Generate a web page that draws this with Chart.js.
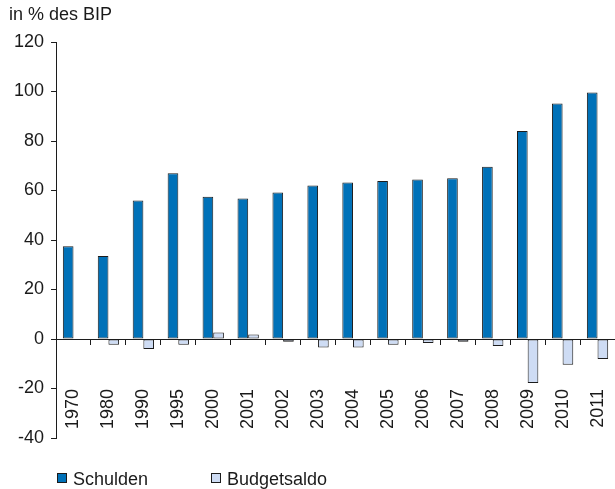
<!DOCTYPE html>
<html>
<head>
<meta charset="utf-8">
<script src="https://cdn.jsdelivr.net/npm/chart.js@4.4.0/dist/chart.umd.min.js"></script>
<style>
    body { margin: 0; background: #fff; font-family: "Liberation Sans", Arial, Helvetica, sans-serif; color: #1a1a1a; }
    #wrap { position: relative; width: 615px; height: 489px; overflow: hidden; }
    #titel { position: absolute; left: 9px; top: 5px; font-size: 18px; line-height: 18px; }
    #legende { position: absolute; left: 57px; top: 470px; font-size: 18px; line-height: 18px; }
    .eintrag { position: absolute; top: 0; white-space: nowrap; }
    .kasten { position: absolute; left: 0; top: 3px; width: 8px; height: 8px; border: 1px solid #1c1c1c; }
    .text { position: absolute; left: 16px; top: 0; }
</style>
</head>
<body>
<div id="wrap">
    <canvas id="grafico" width="615" height="489"></canvas>
    <div id="titel">in % des BIP</div>
    <div id="legende"></div>
</div>
<script>
const jahre = ['1970', '1980', '1990', '1995', '2000', '2001', '2002', '2003', '2004', '2005', '2006', '2007', '2008', '2009', '2010', '2011']
const schulden = [37.5, 33.5, 56, 67, 57.5, 56.8, 59.2, 62, 63.2, 63.8, 64.4, 65, 69.6, 84, 95.2, 99.6]
const budgetsaldo = [null, -2.3, -4, -2.3, 2.6, 1.8, -1.1, -3.4, -3.4, -2.3, -1.6, -1.1, -2.8, -17.8, -10.4, -8.1]
const yMin = -40
const yMax = 120
const yStep = 20

const schrift = { family: '"Liberation Sans", Arial, Helvetica, sans-serif', size: 18 }
const linie = '#1c1c1c'

const chart = new Chart(document.getElementById('grafico'), {
    type: 'bar',
    data: {
        labels: jahre,
        datasets: [
            {
                label: 'Schulden',
                backgroundColor: '#0071b8',
                borderColor: linie,
                borderWidth: 1,
                borderSkipped: false,
                data: schulden
            }, {
                label: 'Budgetsaldo',
                backgroundColor: '#cedcf4',
                borderColor: linie,
                borderWidth: 1,
                borderSkipped: false,
                data: budgetsaldo
            }
        ]
    },
    options: {
        responsive: false,
        animation: false,
        datasets: { bar: { barPercentage: 1, categoryPercentage: 0.61 } },
        layout: { padding: { top: 42, bottom: 51, left: 7, right: -4 } },
        plugins: {
            legend: { display: false },
            title: { display: false },
            tooltip: { enabled: false }
        },
        scales: {
            x: {
                position: { y: 0 },
                grid: { drawOnChartArea: false, tickLength: 5, color: linie, offset: true },
                border: { color: linie },
                ticks: { minRotation: 90, maxRotation: 90, autoSkip: false, padding: 45, color: '#1a1a1a', font: schrift },
                // der tick-abstand soll die zeichenflaeche nicht schmaler machen
                afterFit: (scale) => {
                    scale.paddingLeft = 0
                    scale.paddingRight = 0
                }
            },
            y: {
                min: yMin,
                max: yMax,
                grid: { drawOnChartArea: false, tickLength: 5, color: linie },
                border: { color: linie },
                ticks: { stepSize: yStep, padding: 7, color: '#1a1a1a', font: schrift }
            }
        }
    }
});

// legende aus den datasets
let legende = document.getElementById('legende')
legende.innerHTML = chart.data.datasets.map((ds, i) => {
    return `<div class="eintrag" style="left:${i * 154}px">
        <span class="kasten" style="background:${ds.backgroundColor}"></span>
        <span class="text">${ds.label}</span>
    </div>`
}).join('')
</script>
</body>
</html>
